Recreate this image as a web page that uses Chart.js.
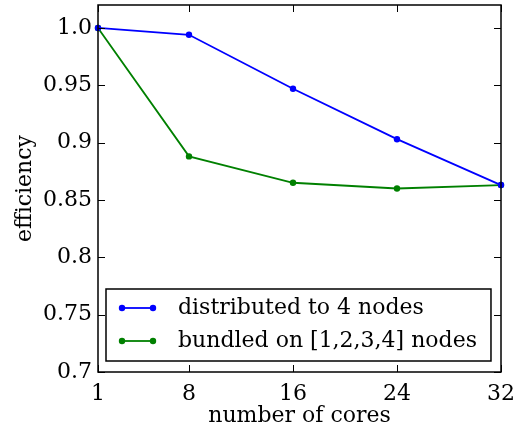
<!DOCTYPE html>
<html>
<head>
<meta charset="utf-8">
<script src="https://cdn.jsdelivr.net/npm/chart.js@4"></script>
<style>
  html, body { margin: 0; padding: 0; background: #fff; }
  #wrap { width: 517px; height: 429px; position: relative; }
</style>
</head>
<body>
<div id="wrap"><canvas id="c"></canvas></div>
<script>
const cores = [1, 8, 16, 24, 32]
const distributed = [1.0, 0.994, 0.947, 0.903, 0.863]
const bundled = [1.0, 0.888, 0.865, 0.860, 0.863]
const xTicks = [1, 8, 16, 24, 32]
const yTicks = [0.7, 0.75, 0.8, 0.85, 0.9, 0.95, 1.0]
const yTickLabels = ["0.7", "0.75", "0.8", "0.85", "0.9", "0.95", "1.0"]
const seriesLabels = ["distributed to 4 nodes", "bundled on [1,2,3,4] nodes"]
const seriesColors = ["#0000ff", "#008000"]

const FONT = "'DejaVu Serif', serif"
const FSIZE = 22

// matplotlib-style frame, inward ticks on all sides, legend box inside the plot
const framePlugin = {
  id: "frame",
  afterDraw(chart) {
    const { ctx, chartArea: a, scales } = chart
    const tl = 7
    ctx.save()
    ctx.strokeStyle = "#000"
    ctx.lineWidth = 1
    scales.x.ticks.forEach(t => {
      const px = Math.round(scales.x.getPixelForValue(t.value)) + 0.5
      ctx.beginPath()
      ctx.moveTo(px, a.bottom); ctx.lineTo(px, a.bottom - tl)
      ctx.moveTo(px, a.top); ctx.lineTo(px, a.top + tl)
      ctx.stroke()
    })
    scales.y.ticks.forEach(t => {
      const py = Math.round(scales.y.getPixelForValue(t.value)) + 0.5
      ctx.beginPath()
      ctx.moveTo(a.left, py); ctx.lineTo(a.left + tl, py)
      ctx.moveTo(a.right, py); ctx.lineTo(a.right - tl, py)
      ctx.stroke()
    })

    // legend
    ctx.font = `${FSIZE}px ${FONT}`
    const textW = Math.max(...seriesLabels.map(s => ctx.measureText(s).width))
    const lx = a.left + 8
    const lw = 72 + textW + 14
    const lh = 72
    const ly = a.bottom - 11 - lh
    ctx.fillStyle = "#fff"
    ctx.fillRect(lx, ly, lw, lh)
    ctx.lineWidth = 1.5
    ctx.strokeRect(lx, ly, lw, lh)
    seriesLabels.forEach((s, i) => {
      const y = ly + 19 + i * 33
      ctx.strokeStyle = seriesColors[i]
      ctx.fillStyle = seriesColors[i]
      ctx.lineWidth = 1.8
      ctx.beginPath()
      ctx.moveTo(lx + 16, y); ctx.lineTo(lx + 47, y)
      ctx.stroke()
      ;[lx + 16, lx + 47].forEach(px => {
        ctx.beginPath(); ctx.arc(px, y, 3.2, 0, Math.PI * 2); ctx.fill()
      })
      ctx.fillStyle = "#000"
      ctx.textBaseline = "middle"
      ctx.fillText(s, lx + 72, y)
    })

    ctx.strokeStyle = "#000"
    ctx.lineWidth = 1.5
    ctx.strokeRect(a.left, a.top, a.right - a.left, a.bottom - a.top)
    ctx.restore()
  }
}

Chart.defaults.font.family = FONT
Chart.defaults.font.size = FSIZE
Chart.defaults.color = "#000"

new Chart(document.getElementById("c"), {
  type: "line",
  data: {
    datasets: [
      { label: seriesLabels[0], data: cores.map((x, i) => ({ x, y: distributed[i] })) },
      { label: seriesLabels[1], data: cores.map((x, i) => ({ x, y: bundled[i] })) }
    ].map((d, i) => ({
      ...d,
      borderColor: seriesColors[i],
      backgroundColor: seriesColors[i],
      borderWidth: 1.8,
      pointRadius: 3.2,
      pointBorderWidth: 0,
      tension: 0,
      clip: false
    }))
  },
  plugins: [framePlugin],
  options: {
    responsive: true,
    maintainAspectRatio: false,
    animation: false,
    layout: { padding: { top: 5, right: 16, left: 0, bottom: 0 } },
    plugins: { legend: { display: false }, tooltip: { enabled: false } },
    scales: {
      x: {
        type: "linear",
        min: 1,
        max: 32,
        afterBuildTicks: s => { s.ticks = xTicks.map(v => ({ value: v })) },
        afterFit: s => { s.height = 57; s.paddingLeft = 0; s.paddingRight = 0 },
        grid: { display: false, drawTicks: false },
        border: { display: false },
        ticks: { padding: 9, maxRotation: 0, autoSkip: false, callback: v => String(v) },
        title: { display: true, text: "number of cores", padding: { top: 0, bottom: 0 } }
      },
      y: {
        min: 0.7,
        max: 1.02,
        afterBuildTicks: s => { s.ticks = yTicks.map(v => ({ value: v })) },
        afterFit: s => { s.width = 98; s.paddingTop = 0; s.paddingBottom = 0 },
        grid: { display: false, drawTicks: false },
        border: { display: false },
        ticks: { padding: 6, autoSkip: false, callback: v => yTickLabels[yTicks.indexOf(v)] ?? "" },
        title: { display: true, text: "efficiency", padding: { top: 12, bottom: 0 } }
      }
    }
  }
})
</script>
</body>
</html>
